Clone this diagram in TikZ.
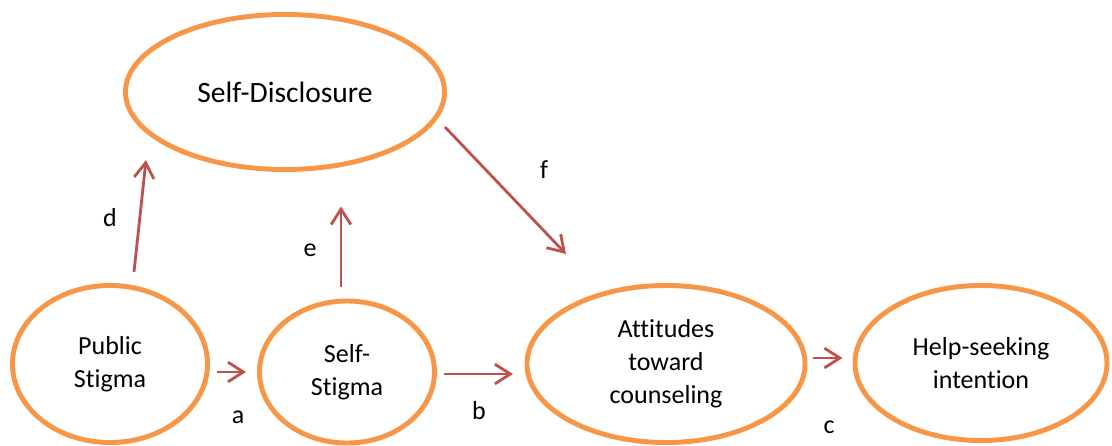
\documentclass[tikz,border=0pt]{standalone}
\usepackage{fontspec}
\setmainfont[Ligatures=NoCommon]{Carlito}
\usetikzlibrary{shapes.geometric,arrows.meta}
\definecolor{ovalorange}{HTML}{F79646}
\definecolor{arrowred}{HTML}{C0504D}

\begin{document}
\begin{tikzpicture}[
  x=0.025cm, y=-0.025cm,
  oval/.style={ellipse, draw=ovalorange, line width=3.5pt, inner sep=0pt,
    align=center, font=\fontsize{18.5}{23.5}\selectfont},
  link/.style={draw=arrowred, line width=2pt,
    -{Straight Barb[length=11pt, width=14pt]}},
  lbl/.style={font=\fontsize{18.5}{22}\selectfont},
]
  \useasboundingbox (0,0) rectangle (1112,446);

  % Constructs
  \node[oval, minimum width=7.975cm, minimum height=3.875cm,
    font=\fontsize{21}{25}\selectfont] (disclosure) at (285,92) {Self-Disclosure};
  \node[oval, minimum width=4.875cm, minimum height=3.925cm] (public) at (110,364) {Public\\Stigma};
  \node[oval, minimum width=4.375cm, minimum height=3.55cm] (self) at (347,372) {Self-\\Stigma};
  \node[oval, minimum width=6.95cm, minimum height=3.925cm] (attitudes) at (666,364) {Attitudes\\toward\\counseling};
  \node[oval, minimum width=6.3cm, minimum height=3.875cm] (intention) at (981,363) {Help-seeking\\intention};

  % Paths
  \draw[link] (public.north) ++(24,-11) -- ++(12,-112);
  \draw[link] (self.north) ++(-6,-12) -- ++(0,-80);
  \draw[link] (disclosure.east) ++(-2,35) -- ++(121,127);
  \draw[link] (public.east) ++(7,8) -- ++(29,0);
  \draw[link] (self.east) ++(7,2) -- ++(69,0);
  \draw[link] (attitudes.east) ++(5,-6) -- ++(30,0);

  % Path labels
  \node[lbl] (dlbl) at (110,218) {d};
  \node[lbl] (elbl) at (310,250) {e};
  \node[lbl] (flbl) at (544,170) {f};
  \node[lbl] (albl) at (238,417) {a};
  \node[lbl] (blbl) at (479,411) {b};
  \node[lbl] (clbl) at (829,427) {c};
\end{tikzpicture}
\end{document}
